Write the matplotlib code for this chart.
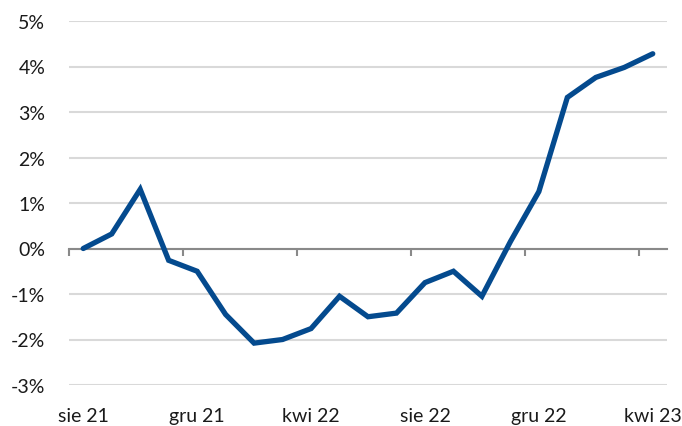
import matplotlib
matplotlib.use("Agg")
from matplotlib import pyplot as plt
import matplotlib.transforms as mtransforms

# monthly values, sie 21 .. kwi 23 (in %)
months = ["sie 21", "wrz 21", "paź 21", "lis 21", "gru 21", "sty 22", "lut 22",
          "mar 22", "kwi 22", "maj 22", "cze 22", "lip 22", "sie 22", "wrz 22",
          "paź 22", "lis 22", "gru 22", "sty 23", "lut 23", "mar 23", "kwi 23"]
values = [0.0, 0.32, 1.3, -0.26, -0.5, -1.45, -2.08, -2.0, -1.76, -1.05, -1.5,
          -1.42, -0.75, -0.5, -1.05, 0.15, 1.25, 3.32, 3.76, 3.98, 4.28]
label_idx = [0, 4, 8, 12, 16, 20]
yticks = [-3, -2, -1, 0, 1, 2, 3, 4, 5]

plt.rcParams["font.family"] = ["Lato", "DejaVu Sans"]

fig = plt.figure(figsize=(6.82, 4.27), dpi=100)
ax = fig.add_axes([69/682, 1 - 386/427, (667 - 69)/682, (386 - 22)/427])

x = list(range(len(values)))
ax.plot(x, values, color="#044A8E", linewidth=3.8, solid_capstyle="round",
        solid_joinstyle="miter", zorder=3)

ax.set_xlim(-0.5, len(values) - 0.5)
ax.set_ylim(-3, 5)

# gridlines
ax.set_yticks(yticks)
ax.set_yticklabels([f"{v}%" for v in yticks], fontsize=14, color="#1a1a1a")
ax.tick_params(axis="y", length=0, pad=17)
ax.grid(axis="y", color="#d9d9d9", linewidth=1.5, zorder=0)

for s in ["left", "right", "top"]:
    ax.spines[s].set_visible(False)
ax.spines["bottom"].set_position(("data", 0))
ax.spines["bottom"].set_color("#898989")
ax.spines["bottom"].set_linewidth(1.5)
ax.spines["bottom"].set_zorder(2)

# tick marks on category boundaries
ax.set_xticks([i - 0.5 for i in label_idx])
ax.set_xticklabels([])
ax.tick_params(axis="x", length=5, width=1.5, color="#898989", direction="out")

trans = mtransforms.blended_transform_factory(ax.transData, ax.transAxes)
for i in label_idx:
    ax.text(i, -0.06, months[i], transform=trans, ha="center", va="top",
            fontsize=14, color="#1a1a1a")

fig.savefig("out.png", dpi=100)
